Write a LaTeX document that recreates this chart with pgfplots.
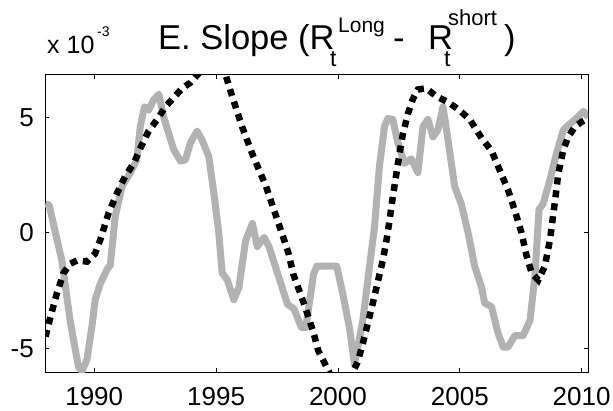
\documentclass[border=0pt]{standalone}
\usepackage{fontspec}
\setmainfont{Liberation Sans}
\usepackage{pgfplots}
\pgfplotsset{compat=1.18}
\definecolor{lightgr}{RGB}{178,178,178}

% gray: data, black dotted: model (units of 10^-3)
\pgfplotstableread{
year val
1988.00 1.25
1988.15 1.2
1988.67 -1.2
1989.01 -3.8
1989.35 -5.8
1989.49 -6.0
1989.70 -5.5
1989.90 -4.1
1990.04 -2.9
1990.25 -2.2
1990.52 -1.6
1990.66 -1.4
1990.86 0.7
1991.14 2.0
1991.48 2.6
1991.75 3.15
1991.89 4.6
1992.06 5.45
1992.23 5.3
1992.44 5.75
1992.65 6.0
1992.85 5.0
1993.26 3.6
1993.54 3.1
1993.74 3.15
1993.95 3.9
1994.22 4.4
1994.43 4.0
1994.70 3.3
1994.91 1.7
1995.11 0.0
1995.25 -1.75
1995.46 -2.05
1995.73 -2.9
1995.94 -2.35
1996.21 -0.35
1996.49 0.4
1996.69 -0.6
1996.97 -0.2
1997.17 -0.6
1997.52 -1.75
1997.93 -3.1
1998.20 -3.3
1998.50 -4.1
1998.68 -4.1
1998.75 -3.6
1999.00 -1.8
1999.13 -1.45
1999.95 -1.45
2000.19 -2.6
2000.47 -4.1
2000.68 -5.7
2001.02 -3.8
2001.29 -1.5
2001.50 0.25
2001.70 2.85
2001.91 4.6
2002.05 4.95
2002.25 4.9
2002.46 3.9
2002.73 3.0
2003.01 3.2
2003.28 2.6
2003.49 4.6
2003.69 4.9
2003.90 4.15
2004.10 4.45
2004.31 5.45
2004.52 4.0
2004.79 2.0
2005.06 1.25
2005.34 0.0
2005.61 -1.45
2005.89 -2.35
2006.02 -3.05
2006.30 -3.2
2006.57 -4.35
2006.78 -4.95
2006.98 -4.95
2007.26 -4.45
2007.60 -4.45
2007.88 -3.8
2008.08 -1.9
2008.25 1.0
2008.42 1.25
2008.70 2.3
2008.97 3.45
2009.25 4.45
2009.45 4.65
2009.73 4.9
2010.07 5.25
2010.28 5.0
}\datatab

\pgfplotstableread{
year val
1988.00 -4.5
1988.19 -3.7
1988.46 -2.65
1988.74 -1.75
1989.01 -1.35
1989.29 -1.2
1989.70 -1.25
1990.04 -0.9
1990.25 -0.3
1990.59 0.85
1990.93 1.7
1991.27 2.45
1991.62 3.0
1991.89 3.65
1992.23 4.4
1992.58 4.9
1992.92 5.45
1993.26 5.85
1993.61 6.25
1993.95 6.5
1994.29 6.9
1994.60 7.4
1994.90 7.6
1995.20 7.3
1995.40 6.8
1995.66 5.9
1996.08 4.55
1996.49 3.4
1997.05 2.0
1997.50 0.6
1997.96 -0.85
1998.17 -1.8
1998.65 -3.2
1998.99 -4.3
1999.19 -5.1
1999.67 -6.1
2000.20 -6.9
2000.81 -5.6
2001.02 -4.8
2001.22 -3.95
2001.43 -3.05
2001.63 -2.15
2001.84 -1.2
2001.98 -0.4
2002.12 0.55
2002.25 1.55
2002.39 2.5
2002.53 3.45
2002.66 4.25
2002.87 5.15
2003.08 5.8
2003.28 6.2
2003.62 6.25
2004.04 5.9
2004.52 5.65
2004.99 5.3
2005.41 4.9
2005.89 4.1
2006.30 3.55
2006.64 2.7
2006.98 1.85
2007.26 0.95
2007.53 0.0
2007.74 -1.0
2007.95 -1.75
2008.22 -2.05
2008.49 -1.45
2008.70 -0.3
2008.91 1.4
2009.04 2.55
2009.25 3.6
2009.45 4.15
2009.73 4.6
2010.00 4.8
2010.28 4.95
}\modeltab

\begin{document}
\begin{tikzpicture}[x=1pt,y=1pt]
\path[use as bounding box] (0,0) rectangle (613,410);
\begin{axis}[
    at={(45pt,38pt)}, anchor=south west,
    width=543pt, height=298pt, scale only axis,
    xmin=1987.98, xmax=2010.26, ymin=-6.03, ymax=6.87,
    xtick={1990,1995,2000,2005,2010}, ytick={-5,0,5},
    /pgf/number format/1000 sep={},
    /pgf/number format/assume math mode=true,
    tick align=inside, major tick length=4.5pt,
    tick style={black, line width=0.8pt},
    axis line style={line width=0.9pt},
    ticklabel style={font=\fontsize{26}{26}\selectfont},
    xticklabel style={inner sep=0pt, anchor=north, yshift=-15pt},
    yticklabel style={inner sep=0pt, anchor=east, xshift=-11pt},
]
\addplot[lightgr, line width=7pt, line join=round, no markers] table[x=year, y=val] {\datatab};
\addplot[black, line width=6.5pt, line cap=butt, dash pattern=on 7pt off 6pt, no markers] table[x=year, y=val] {\modeltab};
\end{axis}
% exponent label
\node[anchor=base west, inner sep=0pt, font=\fontsize{25}{25}\selectfont] at (47,356) {x 10};
\node[anchor=base west, inner sep=0pt, font=\fontsize{14}{14}\selectfont] at (97,373) {-3};
% title
\node[anchor=base west, inner sep=0pt, font=\fontsize{34.5}{34.5}\selectfont] at (158,360) {E. Slope (R};
\node[anchor=base west, inner sep=0pt, font=\fontsize{23}{23}\selectfont] at (330,343) {t};
\node[anchor=base west, inner sep=0pt, font=\fontsize{21}{21}\selectfont] at (338,377) {Long};
\node[anchor=base west, inner sep=0pt, font=\fontsize{34.5}{34.5}\selectfont] at (393,360) {-};
\node[anchor=base west, inner sep=0pt, font=\fontsize{34.5}{34.5}\selectfont] at (428,360) {R};
\node[anchor=base west, inner sep=0pt, font=\fontsize{23}{23}\selectfont] at (444,343) {t};
\node[anchor=base west, inner sep=0pt, font=\fontsize{22}{22}\selectfont] at (448,384) {short};
\node[anchor=base west, inner sep=0pt, font=\fontsize{34.5}{34.5}\selectfont] at (504,360) {)};
\end{tikzpicture}
\end{document}
